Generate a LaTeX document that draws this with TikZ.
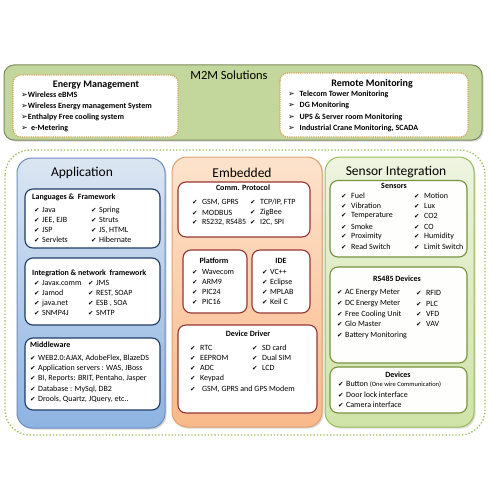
\documentclass[tikz,border=0pt]{standalone}
\usepackage{fontspec}
\setmainfont{Carlito}
\newfontfamily\dejavu{DejaVu Sans}
\usetikzlibrary{shadows}
\definecolor{topgreen}{HTML}{C3D69B}
\definecolor{topborder}{HTML}{7D8A5E}
\definecolor{dotgreen}{HTML}{9BBB59}
\definecolor{tanborder}{HTML}{D4A55A}
\definecolor{appTop}{HTML}{DCE6F2}
\definecolor{appBot}{HTML}{8DB3E2}
\definecolor{appBorder}{HTML}{6F8DBF}
\definecolor{appInner}{HTML}{1F3B66}
\definecolor{embTop}{HTML}{FDE3CC}
\definecolor{embBot}{HTML}{F9B98A}
\definecolor{embBorder}{HTML}{E2A070}
\definecolor{embInner}{HTML}{953735}
\definecolor{senTop}{HTML}{EEF4E0}
\definecolor{senBot}{HTML}{CFE3A8}
\definecolor{senBorder}{HTML}{9BBB59}
\definecolor{senInner}{HTML}{77933C}
\newcommand\ck{{\dejavu\fontsize{6.5}{6.5}\selectfont ✔}}
\newcommand\arr{{\dejavu\fontsize{8}{8}\selectfont ➢}}
\newcommand\itm[4]{\node[itemtxt] (#1) at (#2,#3) {\ck\hspace{2.5pt}#4};}
\tikzset{
  itemtxt/.style={anchor=west,inner sep=0pt,font=\fontsize{8}{9}\selectfont},
  bitemtxt/.style={anchor=west,inner sep=0pt,font=\fontsize{8}{9}\selectfont\bfseries},
  subtitle/.style={inner sep=0pt,font=\fontsize{8}{9}\selectfont\bfseries},
  maintitle/.style={inner sep=0pt,font=\fontsize{13.5}{15}\selectfont},
  shadowed/.style={drop shadow={shadow xshift=1.5pt,shadow yshift=-1.5pt,opacity=0.3}},
  appinner/.style={draw=appInner,line width=1.1pt,fill=white,rounded corners=8pt},
  embinner/.style={draw=embInner,line width=1.1pt,fill=white,rounded corners=8pt},
  seninner/.style={draw=senInner,line width=1.1pt,fill=white!92!senTop,rounded corners=8pt},
}
\begin{document}
\begin{tikzpicture}[x=1pt,y=-1pt]
\useasboundingbox (0,0) rectangle (500,500);
\fill[white] (0,0) rectangle (500,500);
% top band
\draw[topborder,line width=1pt,fill=topgreen,rounded corners=10pt,shadowed] (4,65) rectangle (482,140);
\draw[tanborder,densely dotted,line width=1.2pt,fill=white,rounded corners=8pt] (13,75) rectangle (178,137);
\draw[tanborder,densely dotted,line width=1.2pt,fill=white,rounded corners=8pt] (280,73) rectangle (468,137);
\node[inner sep=0pt,font=\fontsize{12.5}{14}\selectfont] (m2m) at (229,75) {M2M Solutions};
\node[inner sep=0pt,font=\fontsize{10}{12}\selectfont\bfseries] (energy) at (96,85) {Energy Management};
\node[bitemtxt] (e1) at (21,95) {\arr Wireless eBMS};
\node[bitemtxt] (e2) at (21,106.5) {\arr Wireless Energy management System};
\node[bitemtxt] (e3) at (21,117.5) {\arr Enthalpy Free cooling system};
\node[bitemtxt] (e4) at (21,128) {\arr\hspace{1.5pt} e-Metering};
\node[inner sep=0pt,font=\fontsize{10}{12}\selectfont\bfseries] (remote) at (372,84) {Remote Monitoring};
\node[bitemtxt] (r1) at (288,94.5) {\arr\hspace{3pt} Telecom Tower Monitoring};
\node[bitemtxt] (r2) at (288,105.5) {\arr\hspace{3pt} DG Monitoring};
\node[bitemtxt] (r3) at (288,117) {\arr\hspace{3pt} UPS \& Server room Monitoring};
\node[bitemtxt] (r4) at (288,128) {\arr\hspace{3pt} Industrial Crane Monitoring, SCADA};
% outer dotted
\draw[dotgreen,dotted,line width=1.3pt,rounded corners=25pt] (5,150) rectangle (485,435);
% Application
\draw[appBorder,line width=1pt,top color=appTop,bottom color=appBot,rounded corners=15pt,shadowed] (17,158) rectangle (165,428);
\node[maintitle] (app) at (82,173) {Application};
\draw[appinner] (25,189) rectangle (160,248);
\node[subtitle,anchor=west] (lang) at (32,197.5) {Languages \&\ \ Framework};
\itm{l1}{34}{210}{Java}
\itm{l2}{34}{220}{JEE, EJB}
\itm{l3}{34}{230}{JSP}
\itm{l4}{34}{240}{Servlets}
\itm{l5}{91}{210}{Spring}
\itm{l6}{91}{220}{Struts}
\itm{l7}{91}{230}{JS, HTML}
\itm{l8}{91}{240}{Hibernate}
\draw[appinner] (25,258) rectangle (160,325);
\node[subtitle,anchor=west] (integ) at (32,273) {Integration \& network\ \ framework};
\itm{i1}{34}{283}{Javax.comm}
\itm{i2}{34}{293}{Jamod}
\itm{i3}{34}{303}{java.net}
\itm{i4}{34}{313}{SNMP4J}
\itm{i5}{88}{283}{JMS}
\itm{i6}{88}{293}{REST, SOAP}
\itm{i7}{88}{303}{ESB\ , SOA}
\itm{i8}{88}{313}{SMTP}
\draw[appinner] (25,338) rectangle (160,410);
\node[subtitle,anchor=west] (mid) at (30,345) {Middleware};
\itm{m1}{30}{358}{WEB2.0:AJAX, AdobeFlex, BlazeDS}
\itm{m2}{30}{368}{Application servers : WAS, JBoss}
\itm{m3}{30}{378.5}{BI, Reports: BRIT, Pentaho, Jasper}
\itm{m4}{30}{389}{Database : MySql, DB2}
\itm{m5}{30}{399}{Drools, Quartz, JQuery, etc..}
% Embedded
\draw[embBorder,line width=1pt,top color=embTop,bottom color=embBot,rounded corners=15pt,shadowed] (172,157) rectangle (322,427);
\node[maintitle] (emb) at (242,173) {Embedded};
\draw[embinner] (178,182) rectangle (310,237);
\node[subtitle] (comm) at (243,187.5) {Comm. Protocol};
\itm{c1}{192}{202.5}{\hspace{2pt}GSM, GPRS}
\itm{c2}{192}{212.5}{\hspace{2pt}MODBUS}
\itm{c3}{192}{222.5}{\hspace{2pt}RS232, RS485}
\itm{c4}{250}{202.5}{\hspace{2pt}TCP/IP, FTP}
\itm{c5}{250}{212.5}{\hspace{2pt}ZigBee}
\itm{c6}{250}{222.5}{\hspace{2pt}I2C, SPI}
\draw[embinner] (183,250) rectangle (247,313);
\node[subtitle] (plat) at (214,261) {Platform};
\itm{p1}{192}{272}{\hspace{2pt}Wavecom}
\itm{p2}{192}{282}{\hspace{2pt}ARM9}
\itm{p3}{192}{292}{\hspace{2pt}PIC24}
\itm{p4}{192}{302}{\hspace{2pt}PIC16}
\draw[embinner] (252,250) rectangle (310,313);
\node[subtitle] (ide) at (281,261) {IDE};
\itm{d1}{262}{272}{VC++}
\itm{d2}{262}{282}{Eclipse}
\itm{d3}{262}{292}{MPLAB}
\itm{d4}{262}{302}{Keil C}
\draw[embinner] (178,325) rectangle (317,413);
\node[subtitle] (dd) at (248,334) {Device Driver};
\itm{v1}{190}{348}{\hspace{2pt}RTC}
\itm{v2}{190}{358}{\hspace{2pt}EEPROM}
\itm{v3}{190}{368}{\hspace{2pt}ADC}
\itm{v4}{190}{378}{\hspace{2pt}Keypad}
\itm{v5}{190}{389}{\hspace{4pt}GSM, GPRS and GPS Modem}
\itm{v6}{252}{348}{\hspace{2pt}SD card}
\itm{v7}{252}{358}{\hspace{2pt}Dual SIM}
\itm{v8}{252}{368}{\hspace{2pt}LCD}
% Sensor Integration
\draw[senBorder,line width=1pt,top color=senTop,bottom color=senBot,rounded corners=15pt,shadowed] (325,157) rectangle (474,427);
\node[maintitle] (sen) at (396,172) {Sensor Integration};
\draw[seninner] (330,180.5) rectangle (467,257);
\node[subtitle] (sensors) at (394,186) {Sensors};
\itm{s1}{341}{196}{\hspace{2pt}Fuel}
\itm{s2}{341}{206}{\hspace{2pt}Vibration}
\itm{s3}{341}{216}{\hspace{2pt}Temperature}
\itm{s4}{341}{226.5}{\hspace{2pt}Smoke}
\itm{s5}{341}{236.5}{\hspace{2pt}Proximity}
\itm{s6}{341}{247}{\hspace{2pt}Read Switch}
\itm{s7}{414}{196}{\hspace{2pt}Motion}
\itm{s8}{414}{206}{\hspace{2pt}Lux}
\itm{s9}{414}{216}{\hspace{2pt}CO2}
\itm{s10}{414}{226.5}{\hspace{2pt}CO}
\itm{s11}{414}{236.5}{\hspace{2pt}Humidity}
\itm{s12}{414}{247}{\hspace{2pt}Limit Switch}
\draw[seninner] (330,267) rectangle (467,363);
\node[subtitle] (rs) at (397,279) {RS485 Devices};
\itm{q1}{337}{293}{AC Energy Meter}
\itm{q2}{337}{303.5}{DC Energy Meter}
\itm{q3}{337}{314}{Free Cooling Unit}
\itm{q4}{337}{324}{Glo Master}
\itm{q5}{337}{335}{Battery Monitoring}
\itm{q6}{416}{293}{\hspace{2pt}RFID}
\itm{q7}{416}{303.5}{\hspace{2pt}PLC}
\itm{q8}{416}{314}{\hspace{2pt}VFD}
\itm{q9}{416}{324}{\hspace{2pt}VAV}
\draw[seninner] (330,367) rectangle (467,413);
\node[subtitle] (dev) at (398,375) {Devices};
\itm{w1}{338}{384.5}{Button {\fontsize{6.5}{7}\selectfont(One wire Communication)}}
\itm{w2}{338}{395}{Door lock interface}
\itm{w3}{338}{405}{Camera interface}
\end{tikzpicture}
\end{document}
